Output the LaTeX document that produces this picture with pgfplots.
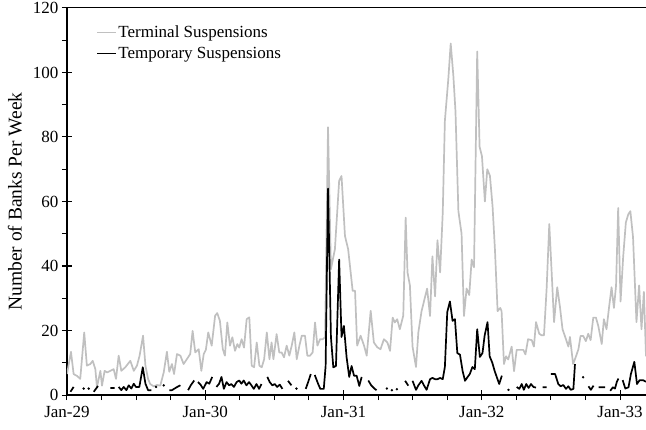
\documentclass[border=0pt]{standalone}
\usepackage{fontspec}
\setmainfont{Liberation Serif}
\usepackage{pgfplots}
\pgfplotsset{compat=1.18}
\definecolor{termgray}{RGB}{192,192,192}

\begin{document}
\begin{tikzpicture}
\begin{axis}[
  at={(0pt,0pt)}, anchor=south west,
  scale only axis, width=579pt, height=387pt,
  xmin=0, xmax=218.5, ymin=0, ymax=120,
  axis lines*=left,
  axis line style={-, line width=1.2pt},
  xtick={0,52.18,104.36,156.54,208.72},
  xticklabels={Jan-29,Jan-30,Jan-31,Jan-32,Jan-33},
  minor x tick num=3,
  ytick={0,20,...,120},
  minor y tick num=1,
  tick align=center,
  major tick length=10pt, minor tick length=5pt,
  minor x tick style={yshift=-2.5pt},
  minor y tick style={xshift=-2.5pt},
  tick style={black, line width=1pt},
  ticklabel style={font=\fontsize{17}{19}\selectfont},
  xticklabel style={yshift=-3pt},
  /pgf/number format/assume math mode=true,
  ylabel={Number of Banks Per Week},
  ylabel style={font=\fontsize{19.5}{21}\selectfont, at={(axis description cs:0,0.5)}, anchor=center, yshift=52pt},
  legend style={at={(rel axis cs:0.05,0.958)}, anchor=north west, draw=none, fill=none,
    inner sep=0pt, row sep=5pt, font=\fontsize{17}{19}\selectfont,
    nodes={inner sep=1.5pt}},
  legend cell align=left,
  legend image code/.code={\draw[#1] (0pt,0pt) -- (19pt,0pt);},
  unbounded coords=jump,
]
% closing weekly terminal suspensions
\addplot[termgray, line width=1.7pt, line join=round] coordinates {
(0,6.5) (1.5,13.4) (2.5,6.5) (3.8,5.9) (5.0,5.0) (6.5,19.4) (7.5,9.1) (8.8,9.6)
(9.7,10.6) (10.7,8.0) (11.3,2.4) (12.6,7.5) (13.2,2.9) (14.2,7.5) (15.1,7.0)
(16.4,7.5) (17.6,8.0) (18.5,5.0) (19.5,12.2) (20.5,7.5) (22.0,8.6) (23.9,10.6)
(25.2,7.5) (26.4,9.1) (27.4,12.2) (28.7,18.4) (29.6,9.1) (30.6,5.0) (31.4,3.4)
(32.7,2.7) (34.0,3.1) (35.2,2.9) (36.5,7.0) (37.7,13.4) (38.6,7.2) (39.6,9.6)
(40.4,6.5) (41.5,12.7) (42.8,12.2) (44.0,9.6) (45.7,11.7) (46.5,12.7) (47.4,19.9)
(48.4,13.2) (49.7,14.2) (50.7,7.5) (51.6,12.7) (52.4,14.0) (53.3,19.4) (54.6,15.3)
(55.9,24.6) (56.7,25.4) (57.7,23.0) (58.8,14.2) (59.6,12.2) (60.5,22.5) (61.5,15.3)
(62.4,17.9) (63.4,13.7) (64.3,15.8) (65.0,14.7) (65.9,17.3) (66.8,14.7) (67.8,23.5)
(68.8,24.1) (69.7,9.1) (70.6,8.6) (71.6,16.3) (72.6,9.1) (73.5,8.6) (74.4,11.1)
(75.4,19.4) (76.4,11.1) (77.2,16.3) (77.9,11.1) (79.1,18.9) (80.1,13.2) (81.0,13.2)
(81.9,11.7) (82.9,15.3) (83.9,12.2) (84.8,15.3) (85.8,19.4) (86.7,11.1) (87.7,15.3)
(88.6,18.4) (89.8,18.4) (90.7,12.2) (91.7,12.2) (92.7,13.2) (93.6,22.5) (94.5,15.3)
(95.5,17.3) (96.5,17.3) (97.4,17.9) (98.5,83) (99.6,39) (101.1,45.2) (102.7,66.4)
(103.6,67.9) (104.9,49.3) (106.1,45.2) (107.8,32.3) (108.7,32.3) (109.5,15.3)
(110.8,18.4) (112.1,15.3) (113.1,12.2) (114.6,26.1) (115.8,16.3) (117.1,14.8)
(118.3,14.2) (119.6,17.3) (120.9,16.3) (121.9,13.7) (122.9,24.0) (123.7,22.5)
(124.6,23.5) (125.6,20.4) (126.9,24.6) (127.8,55.0) (128.5,38) (129.4,34)
(130.4,15) (131.7,8.7) (132.6,19.5) (133.8,26) (135,30) (135.9,33) (137,24.5)
(137.9,43) (138.9,30.6) (139.8,48) (140.8,38) (141.8,56.6) (142.6,85) (143.9,98)
(144.8,109) (145.8,99) (146.6,88) (147.7,57) (148.9,50) (149.8,24.5) (150.8,33)
(151.8,31) (152.7,42) (153.6,39.6) (154.8,106.5) (155.7,77) (156.6,74) (157.7,60)
(158.6,70) (159.6,68) (160.6,58.5) (161.5,45) (162.5,26) (163.5,27) (164.0,26)
(164.9,9.6) (165.7,12) (166.5,11) (167.8,15) (168.7,7.4) (169.7,14) (170.9,14)
(172.2,14) (173,12.6) (174,17.3) (175.4,17) (176.2,15) (177,22.6) (178.2,19)
(179.1,18.5) (180,18.5) (181,33) (182,53) (182.9,38) (183.8,22.6) (185,33.4)
(186,27.5) (187,20.4) (188.3,17.3) (189.2,15) (189.8,18) (191,9.6) (192,11.8)
(193,14.2) (193.8,18.3) (194.8,18.3) (195.8,16.7) (196.7,19) (197.6,17) (198.6,24)
(199.6,24) (200.5,21.4) (201.8,15.8) (202.6,23.5) (203.6,20.4) (204.6,27.5)
(205.5,33.4) (206.4,27) (207.2,34) (208,58) (208.9,29) (209.9,43) (210.9,53.5)
(211.8,56) (212.6,57) (213.6,49) (214.9,22.6) (215.9,34) (216.8,20.4) (217.7,32)
(218.5,12)
};
\addlegendentry{Terminal Suspensions}
% temporary suspensions; weeks with none are left as gaps
\addplot[black, line width=1.7pt, line join=round] coordinates {
(1.3,1) (2.5,2.5) (3,nan)
(10.1,1) (11.7,2.8) (12,nan)
(16.4,2.2) (18,2.2) (18.5,nan)
(19.5,2.5) (20.5,1.5) (21.4,2.5) (22.4,1.5) (23.3,3) (24.3,2) (25.2,3.5) (26,2.5)
(27.3,2.5) (28.6,8.6) (29.6,3.5) (30.6,1.5) (31.8,1.5) (32.5,nan)
(38.6,1.5) (39.6,1.5) (40.6,2) (41.6,2.5) (42.8,3) (43.5,nan)
(45.7,1.5) (46.7,3) (48.0,4.5) (48.5,nan)
(49.4,4) (50.4,3.2) (51.4,1.9) (52.7,4) (53.7,3.5) (54.8,5.6) (55.5,nan)
(56.4,2.5) (57.4,3.5) (58.3,5.6) (59.2,1.9) (60.2,4) (61.2,3) (62,3.4) (63,2.5)
(64,4) (65,4.5) (65.8,3.5) (66.7,4.5) (67.7,3) (68.7,4) (69.6,3) (70.5,1.9)
(71.5,3.4) (72.5,1.9) (73.4,3.4) (74.5,nan)
(75.6,5.6) (76.5,4) (77.5,3) (78.4,3.4) (79.3,2.5) (80.3,3.2) (81.3,1.9) (82,nan)
(83.4,4.4) (84.7,3) (85.5,nan)
(90.1,1.9) (91,4) (92,6.5) (92.8,nan)
(93.5,6.2) (94.8,3.4) (95.6,1.9) (96.9,1.9) (97.6,9) (98.5,64) (99.6,18)
(100.5,8.6) (101.5,9) (102.7,42) (103.6,18) (104.5,21.4) (105.5,11.8) (106.5,5.6)
(107.4,9) (108.3,6) (109.3,6) (110.3,2.8) (111.2,5.6) (112,nan)
(113.7,4.5) (114.8,3) (116,2) (116.8,1.5) (117.5,nan)
(127.6,4.4) (128.8,2.9) (129.5,nan)
(130.4,4.4) (131.7,1.6) (132.6,3) (133.8,4.4) (134.7,3) (135.7,1.6) (137,4.9)
(137.9,5.3) (138.9,4.9) (139.8,4.9) (140.8,5.3) (141.8,4.9) (142.6,8.7) (143.5,25.7)
(144.5,29) (145.5,23) (146.4,23.5) (147.3,13) (148.3,12.5) (149.3,7.4) (150.2,4.4)
(151.1,5.5) (152,6.5) (153,8.7) (153.9,8) (154.8,20.4) (155.8,11.8) (156.8,13)
(157.6,18.4) (158.7,22.6) (159.5,12) (160.5,10) (161.4,7.4) (162.3,5.3) (163.1,3.4)
(164.1,6) (165,nan)
(169.7,2.5) (170.7,1.9) (171.6,3.4) (172.4,1.6) (173.3,3.4) (174.2,2.2) (175.1,3.4)
(176,2.5) (177,2.3) (178,nan)
(179.5,2.4) (181,2.4) (181.8,nan)
(182.6,6.5) (184.2,6.5) (185.4,3.4) (186.3,2.7) (187.3,3.1) (188.3,1.9) (189.2,2.7)
(190.1,1.6) (191.1,1.9) (191.7,9.6) (192.5,nan)
(196.8,2.7) (197.7,1.6) (198.7,2.9) (199.5,nan)
(200.6,2.4) (203.1,2.4) (204,nan)
(205,1.3) (206,2.4) (206.8,2) (207.5,4.1) (208.1,5.1) (208.8,nan)
(209.7,4.6) (210.7,2) (211.9,2.4) (212.8,6.5) (214.1,10.3) (215.1,3.4) (216.1,4.6)
(217.4,4.6) (218.5,4.1)
};
\addlegendentry{Temporary Suspensions}
% single weeks standing alone between empty weeks
\addplot[black, only marks, mark=*, mark size=1pt, forget plot] coordinates {
(6.3,2) (8.2,2) (33.6,2.5) (36.5,3) (86.6,2) (120.7,2) (122.6,1.5) (124.5,1.8)
(166.6,1.6) (194.8,5.5)
};
\draw[line width=1pt] (rel axis cs:0,1) -- (rel axis cs:1,1);
\end{axis}
\pgfresetboundingbox
\path[use as bounding box] (-67pt,-34pt) rectangle (579pt,395pt);
\end{tikzpicture}
\end{document}
